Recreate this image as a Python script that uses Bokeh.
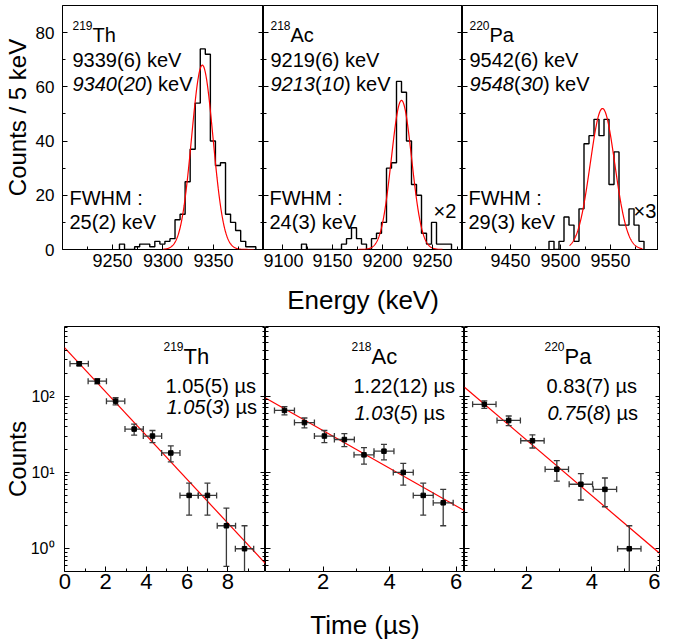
import numpy as np
from bokeh.plotting import figure
from bokeh.layouts import row, column
from bokeh.models import (Label, LinearAxis, LogAxis, SingleIntervalTicker,
                          FixedTicker, CustomJSTickFormatter, CustomLabelingPolicy,
                          GlobalInlineStyleSheet)
from bokeh.embed import file_html
from bokeh.resources import INLINE

FONT = "Liberation Sans"
NB = "\u00a0"

# ---------------- alpha-energy spectra (5 keV bins) ----------------
BIN = 5.0
nuclide = ["219Th", "218Ac", "220Pa"]
th_bin_lo = 9257.0
th_counts = [2, 0, 0, 1, 2, 2, 1, 3, 2, 3, 4, 11, 13, 25, 37, 54, 74, 72, 40, 31,
             32, 13, 10, 7, 3, 1, 1]
ac_bin_lo = 9119.0
ac_counts = [2, 0, 0, 0, 0, 0, 0, 0, 2, 4, 8, 4, 2, 0, 4, 6, 10, 30, 32, 62,
             58, 40, 24, 20, 6, 2, 10, 2, 2, 2]
pa_bin_lo = 9488.5
pa_counts = [3, 0, 3, 12, 9, 3, 15, 39, 42, 48, 42, 48, 24, 36, 9, 9, 15, 9, 3]

# Gaussian fits (amplitude, centroid keV, FWHM keV, drawn from/to keV)
gauss_amp = [68, 55, 52]
gauss_mu = [9339, 9219, 9542]
gauss_fwhm = [25, 24, 29]
gauss_lo = [9300, 9175, 9509]
gauss_hi = [9390, 9260, 9582]

# ---------------- decay-time spectra ----------------
th_t = [0.70, 1.59, 2.49, 3.40, 4.30, 5.20, 6.10, 7.00, 7.93, 8.82]
th_n = [266, 157, 86, 37, 30, 18, 5, 5, 2, 1]
th_dt = 0.45
ac_t = [0.84, 1.44, 2.04, 2.64, 3.23, 3.83, 4.41, 5.01, 5.61]
ac_n = [65, 45, 30, 27, 17, 19, 10, 5, 4]
ac_dt = 0.30
pa_t = [0.69, 1.44, 2.17, 2.92, 3.66, 4.40, 5.15]
pa_n = [78, 48, 26, 11, 7, 6, 1]
pa_dt = 0.36

decay_amp = [426, 110, 140]          # counts at t = 0 of the fitted line
half_life = [1.05, 1.22, 0.83]       # microseconds

# ---------------- geometry (page pixels) ----------------
PAGE_TOP = 5
COL_L = [66, 267, 466]
COL_W = [201, 199, 196]
TOP_T, TOP_H = 5, 244
BOT_T, BOT_H = 326, 245
top_xr = [(9200.6, 9399.6), (9081.0, 9280.0), (9402.0, 9598.0)]
top_yr = (0.0, 90.0)
bot_xr = [(-0.02, 9.85), (0.27, 6.25), (0.08, 6.11)]
bot_yr = (0.503, 818.0)

AW = {"0": .556, "1": .556, "2": .556, "3": .556, "4": .556, "5": .556, "6": .556,
      "7": .556, "8": .556, "9": .556, "(": .333, ")": .333, " ": .278, "k": .5,
      "e": .556, "V": .667, ".": .278, "µ": .576, "s": .5, "×": .584, "F": .611,
      "W": .944, "H": .722, "M": .833, ":": .278, "T": .611, "h": .556, "A": .667,
      "c": .5, "P": .667, "a": .556}


def tw(s, size):
    return sum(AW.get(c, .556) for c in s) * size


def style_axis(ax, ticker, show, size=17, standoff=5):
    ax.ticker = ticker
    ax.axis_line_color = None
    ax.major_tick_in = 5
    ax.major_tick_out = 0
    ax.minor_tick_in = 3
    ax.minor_tick_out = 0
    ax.major_tick_line_color = "black"
    ax.minor_tick_line_color = "black"
    ax.major_tick_line_width = 1
    if show:
        ax.major_label_text_font = FONT
        ax.major_label_text_font_size = f"{size}px"
        ax.major_label_text_font_style = "normal"
        ax.major_label_text_color = "black"
        ax.major_label_standoff = standoff
    else:
        ax.formatter = CustomJSTickFormatter(code="return '';")
        ax.major_label_policy = CustomLabelingPolicy(
            code="for (const i of indices) { indices.unset(i) } return indices;")
        ax.major_label_standoff = 0


def axis_title(ax, text, size, standoff):
    ax.axis_label = text
    ax.axis_label_text_font = FONT
    ax.axis_label_text_font_size = f"{size}px"
    ax.axis_label_text_font_style = "normal"
    ax.axis_label_text_color = "black"
    ax.axis_label_standoff = standoff


def make_fig(col, top_row):
    fh = TOP_H if top_row else BOT_H
    xr = top_xr[col] if top_row else bot_xr[col]
    yr = top_yr if top_row else bot_yr
    p = figure(frame_width=COL_W[col], frame_height=fh, x_range=xr, y_range=yr,
               y_axis_type="linear" if top_row else "log",
               toolbar_location=None, output_backend="svg",
               min_border_left=(COL_L[0] - 8) if col == 0 else 0, min_border_right=0,
               min_border_top=0,
               min_border_bottom=(BOT_T - TOP_T - TOP_H) if top_row else 66)
    p.outline_line_color = "black"
    p.outline_line_width = 1
    p.outline_line_alpha = 1
    p.grid.visible = False
    p.background_fill_color = "white"
    p.border_fill_color = "white"
    if top_row:
        xt = SingleIntervalTicker(interval=50, num_minor_ticks=2)
        yt = lambda: SingleIntervalTicker(interval=20, num_minor_ticks=2)
        style_axis(p.xaxis[0], xt, True, 18, 4)
        style_axis(p.yaxis[0], yt(), col == 0, 17, 8)
        ra = LinearAxis()
        style_axis(ra, yt(), False)
        p.add_layout(ra, "right")
    else:
        xt = SingleIntervalTicker(interval=2, num_minor_ticks=2)
        yt = lambda: FixedTicker(ticks=[1, 10, 100],
                                 minor_ticks=[0.6, 0.7, 0.8, 0.9, 2, 3, 4, 5, 6, 7, 8, 9,
                                              20, 30, 40, 50, 60, 70, 80, 90,
                                              200, 300, 400, 500, 600, 700, 800])
        style_axis(p.xaxis[0], xt, True, 22, 2)
        style_axis(p.yaxis[0], yt(), col == 0, 16, 10)
        if col == 0:
            p.yaxis[0].formatter = CustomJSTickFormatter(code="""
                const s = {0: '\u2070', 1: '\u00b9', 2: '\u00b2', 3: '\u00b3'};
                return '10' + s[Math.round(Math.log10(tick))];""")
        ra = LogAxis()
        style_axis(ra, yt(), False)
        p.add_layout(ra, "right")
    return p


def to_data(col, top_row, px, py):
    L, W = COL_L[col], COL_W[col]
    x0, x1 = (top_xr if top_row else bot_xr)[col]
    x = x0 + (px - L) / W * (x1 - x0)
    if top_row:
        y0, y1 = top_yr
        y = y0 + (TOP_T + TOP_H - py) / TOP_H * (y1 - y0)
    else:
        l0, l1 = np.log10(bot_yr[0]), np.log10(bot_yr[1])
        y = 10 ** (l0 + (BOT_T + BOT_H - py) / BOT_H * (l1 - l0))
    return x, y


def put(p, col, top_row, px, py, segs, size):
    x = px
    for s, style in segs:
        dx, dy = to_data(col, top_row, x, py)
        p.add_layout(Label(x=dx, y=dy, text=s, text_font=FONT,
                           text_font_size=f"{size}px", text_font_style=style,
                           text_color="black", text_align="left",
                           text_baseline="alphabetic"))
        x += tw(s, size)


# ---------------- top row: energy spectra ----------------
hist_lo = [th_bin_lo, ac_bin_lo, pa_bin_lo]
hist_counts = [th_counts, ac_counts, pa_counts]
top_text = [
    ("219", "Th", [("9339(6) keV", "normal")],
     [("9340", "italic"), ("(", "normal"), ("20", "italic"), (") keV", "normal")],
     "25(2) keV", None),
    ("218", "Ac", [("9219(6) keV", "normal")],
     [("9213", "italic"), ("(", "normal"), ("10", "italic"), (") keV", "normal")],
     "24(3) keV", "×2"),
    ("220", "Pa", [("9542(6) keV", "normal")],
     [("9548", "italic"), ("(", "normal"), ("30", "italic"), (") keV", "normal")],
     "29(3) keV", "×3"),
]
text_x_top = [76, 274, 473]
fw_x_top = [73, 273, 472]
scale_x_top = [None, 437, 637]

top_figs = []
for i in range(3):
    p = make_fig(i, True)
    counts = np.asarray(hist_counts[i], float)
    edges = hist_lo[i] + BIN * np.arange(len(counts) + 1)
    xs = np.concatenate([[edges[0]], edges])
    ys = np.concatenate([[0.0], counts, [0.0]])
    p.step(xs, ys, mode="after", line_color="black", line_width=1.4)
    sig = gauss_fwhm[i] / (2 * np.sqrt(2 * np.log(2)))
    e = np.linspace(gauss_lo[i], gauss_hi[i], 300)
    p.line(e, gauss_amp[i] * np.exp(-0.5 * ((e - gauss_mu[i]) / sig) ** 2),
           line_color="red", line_width=1.2)
    sup, el, l2, l3, fw, sc = top_text[i]
    x0 = text_x_top[i]
    put(p, i, True, x0, 25, [(sup, "normal")], 12)
    put(p, i, True, x0 + tw(sup, 12), 34, [(el, "normal")], 20)
    put(p, i, True, x0, 59, l2, 20)
    put(p, i, True, x0, 83, l3, 20)
    put(p, i, True, fw_x_top[i], 197, [("FWHM :", "normal")], 20)
    put(p, i, True, fw_x_top[i], 221, [(fw, "normal")], 20)
    if sc:
        put(p, i, True, scale_x_top[i], 210, [(sc, "normal")], 20)
    top_figs.append(p)

axis_title(top_figs[0].yaxis[0], NB * 3 + "Counts / 5 keV", 24, 2)
axis_title(top_figs[1].xaxis[0], "Energy (keV)", 26, 15)

# ---------------- bottom row: decay curves ----------------
dec_t = [th_t, ac_t, pa_t]
dec_n = [th_n, ac_n, pa_n]
dec_dt = [th_dt, ac_dt, pa_dt]
bot_text = [
    ("219", "Th", [("1.05(5) µs", "normal")],
     [("1.05", "italic"), ("(", "normal"), ("3", "italic"), (") µs", "normal")]),
    ("218", "Ac", [("1.22(12) µs", "normal")],
     [("1.03", "italic"), ("(", "normal"), ("5", "italic"), (") µs", "normal")]),
    ("220", "Pa", [("0.83(7) µs", "normal")],
     [("0.75", "italic"), ("(", "normal"), ("8", "italic"), (") µs", "normal")]),
]
bot_x = [165, 353, 546]
bot_l3 = [406, 412, 412]

bot_figs = []
for i in range(3):
    q = make_fig(i, False)
    t = np.asarray(dec_t[i], float)
    n = np.asarray(dec_n[i], float)
    err = np.sqrt(n)
    lo = np.maximum(n - err, 0.2)
    hi = n + err
    dt = dec_dt[i]
    ln = np.array(bot_xr[i])
    q.line(ln, decay_amp[i] * np.exp(-np.log(2) * ln / half_life[i]),
           line_color="red", line_width=1.2)
    ecol = "#3a3a3a"
    q.segment(x0=t, y0=lo, x1=t, y1=hi, line_color=ecol, line_width=1.3)
    q.segment(x0=t - dt, y0=n, x1=t + dt, y1=n, line_color=ecol, line_width=1.3)
    q.scatter(np.concatenate([t, t]), np.concatenate([lo, hi]), marker="dash",
              size=6, line_color=ecol, line_width=1.3)
    q.scatter(np.concatenate([t - dt, t + dt]), np.concatenate([n, n]), marker="dash",
              angle=np.pi / 2, size=6, line_color=ecol, line_width=1.3)
    q.scatter(t, n, marker="square", size=4.5, color="black")
    sup, el, l2, l3 = bot_text[i]
    x0 = bot_x[i]
    put(q, i, False, x0, 346, [(sup, "normal")], 12)
    put(q, i, False, x0 + tw(sup, 12), 356, [(el, "normal")], 22)
    put(q, i, False, x0 + 2, 385, l2, 20)
    put(q, i, False, x0 + 3, bot_l3[i], l3, 20)
    bot_figs.append(q)

axis_title(bot_figs[0].yaxis[0], "Counts" + NB * 3, 24, -3)
axis_title(bot_figs[1].xaxis[0], "Time (µs)", 26, 18)

page_css = GlobalInlineStyleSheet(
    css=f"html, body {{ overflow: hidden; }} body {{ margin-top: {PAGE_TOP}px; }}")
layout = column(row(*top_figs), row(*bot_figs), stylesheets=[page_css])
open("out.html", "w").write(file_html(layout, INLINE))
